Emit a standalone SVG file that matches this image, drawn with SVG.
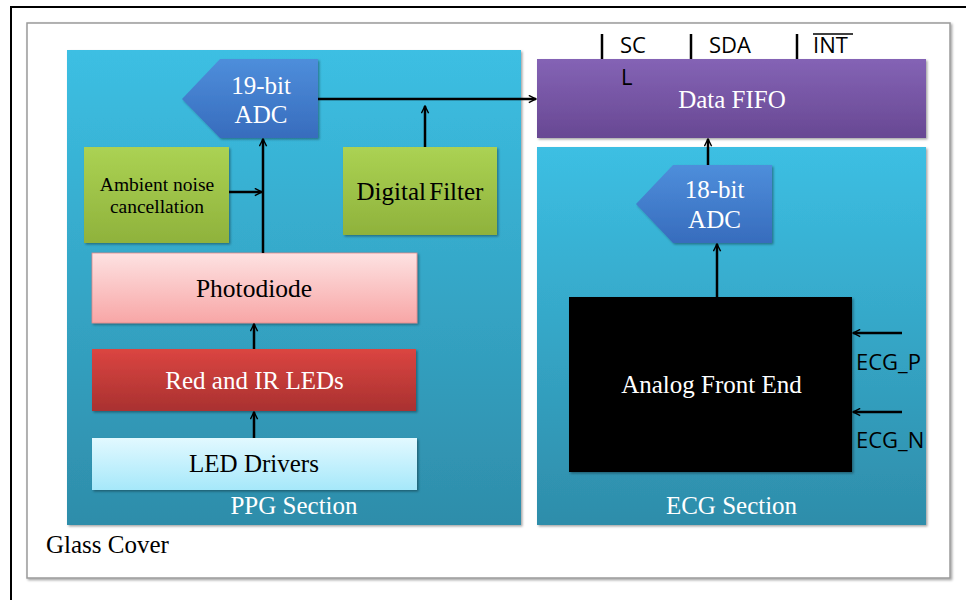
<svg xmlns="http://www.w3.org/2000/svg" width="966" height="600" viewBox="0 0 966 600">
<defs>
<linearGradient id="gSec" x1="0" y1="0" x2="0" y2="1"><stop offset="0" stop-color="#3cbfe3"/><stop offset="1" stop-color="#2e8daa"/></linearGradient>
<linearGradient id="gGreen" x1="0" y1="0" x2="0" y2="1"><stop offset="0" stop-color="#abd253"/><stop offset="1" stop-color="#8fb23c"/></linearGradient>
<linearGradient id="gPurple" x1="0" y1="0" x2="0" y2="1"><stop offset="0" stop-color="#8463b5"/><stop offset="1" stop-color="#684893"/></linearGradient>
<linearGradient id="gBlue" x1="0" y1="0" x2="0" y2="1"><stop offset="0" stop-color="#4e8edb"/><stop offset="1" stop-color="#376cbd"/></linearGradient>
<linearGradient id="gPink" x1="0" y1="0" x2="0" y2="1"><stop offset="0" stop-color="#fde2e2"/><stop offset="1" stop-color="#f8a6a6"/></linearGradient>
<linearGradient id="gRed" x1="0" y1="0" x2="0" y2="1"><stop offset="0" stop-color="#db4541"/><stop offset="1" stop-color="#a93130"/></linearGradient>
<linearGradient id="gLight" x1="0" y1="0" x2="0" y2="1"><stop offset="0" stop-color="#e2f9ff"/><stop offset="1" stop-color="#a6e8fa"/></linearGradient>
<filter id="sh" x="-5%" y="-5%" width="112%" height="115%"><feDropShadow dx="1.5" dy="1.5" stdDeviation="1.2" flood-color="#000" flood-opacity="0.35"/></filter>
<marker id="ah" viewBox="0 0 10 10" refX="9" refY="5" markerWidth="9" markerHeight="9" markerUnits="userSpaceOnUse" orient="auto"><path d="M1,1 L9,5 L1,9" fill="none" stroke="#000" stroke-width="1.6"/></marker>
</defs>
<style>
.serif{font-family:"Liberation Serif","Times New Roman",serif;text-anchor:middle;font-size:25px}
.sans{font-family:"Open Sans","Liberation Sans",sans-serif;font-size:22px}
.w{fill:#fff}
.k{fill:#000}
.c{stroke:#000;stroke-width:2.5;fill:none}
.ca{stroke:#000;stroke-width:2.5;fill:none;marker-end:url(#ah)}
</style>
<rect width="966" height="600" fill="#fff"/>
<g id="frame">
<path d="M11,600 L11,7 L966,7" fill="none" stroke="#000" stroke-width="2"/>
</g>
<g id="glass-cover">
<rect x="27" y="23" width="923" height="555" fill="#fff" stroke="#9a9a9a" stroke-width="1.5" filter="url(#sh)"/>
<text x="46" y="553" class="serif k" style="text-anchor:start">Glass Cover</text>
</g>
<g id="ppg-section">
<rect x="67" y="50" width="454" height="475" fill="url(#gSec)" filter="url(#sh)"/>
<text x="294" y="514" class="serif w">PPG Section</text>
</g>
<g id="ecg-section">
<rect x="537" y="147" width="389" height="378" fill="url(#gSec)" filter="url(#sh)"/>
<text x="731.5" y="514" class="serif w">ECG Section</text>
</g>
<g id="data-fifo">
<rect x="537" y="59" width="389" height="79" fill="url(#gPurple)" filter="url(#sh)"/>
<text x="732" y="108" class="serif w">Data FIFO</text>
</g>
<g id="adc19">
<path d="M182,99 L220,59 L318,59 L318,138 L220,138 Z" fill="url(#gBlue)" filter="url(#sh)"/>
<text x="261" y="94" class="serif w" font-size="24.5">19-bit</text>
<text x="261" y="123" class="serif w" font-size="24.5">ADC</text>
</g>
<g id="ambient">
<rect x="84" y="147" width="145" height="96" fill="url(#gGreen)" filter="url(#sh)"/>
<text x="157" y="191" class="serif k" style="font-size:19.5px">Ambient noise</text>
<text x="157" y="213" class="serif k" style="font-size:19.5px">cancellation</text>
</g>
<g id="digital-filter">
<rect x="343" y="147" width="154" height="88" fill="url(#gGreen)" filter="url(#sh)"/>
<text x="420" y="200" class="serif k" word-spacing="-3">Digital Filter</text>
</g>
<g id="photodiode">
<rect x="92" y="253" width="325" height="70" fill="url(#gPink)" stroke="#e08888" stroke-width="0.8" filter="url(#sh)"/>
<text x="254" y="297" class="serif k" style="font-size:25.5px">Photodiode</text>
</g>
<g id="red-ir-leds">
<rect x="92" y="349" width="324" height="62" fill="url(#gRed)" filter="url(#sh)"/>
<text x="254.5" y="389" class="serif w">Red and IR LEDs</text>
</g>
<g id="led-drivers">
<rect x="92" y="438" width="325" height="52" fill="url(#gLight)" filter="url(#sh)"/>
<text x="254" y="472" class="serif k">LED Drivers</text>
</g>
<g id="adc18">
<path d="M636,204 L673,165 L772,165 L772,243 L673,243 Z" fill="url(#gBlue)" filter="url(#sh)"/>
<text x="714.5" y="198" class="serif w">18-bit</text>
<text x="714.5" y="228" class="serif w">ADC</text>
</g>
<g id="afe">
<rect x="569" y="297" width="283" height="175" fill="#050505" filter="url(#sh)"/>
<text x="711.5" y="393" class="serif w">Analog Front End</text>
</g>
<g id="pins">
<text x="620" y="53" class="sans k">SC</text>
<text x="621" y="85" class="sans k">L</text>
<text x="709" y="53" class="sans k">SDA</text>
<text x="813" y="53" class="sans k">INT</text>
<line x1="813" y1="34" x2="853" y2="34" stroke="#000" stroke-width="1.5"/>
<text x="856" y="370" class="sans k">ECG_P</text>
<text x="856" y="448" class="sans k">ECG_N</text>
</g>
<g id="connectors">
<line class="c" x1="602" y1="34" x2="602" y2="59"/>
<line class="c" x1="691" y1="34" x2="691" y2="59"/>
<line class="c" x1="797" y1="34" x2="797" y2="59"/>
<line class="ca" x1="318" y1="99" x2="536" y2="99"/>
<line class="ca" x1="425" y1="147" x2="425" y2="106"/>
<line class="ca" x1="263" y1="253" x2="263" y2="139"/>
<line class="ca" x1="229" y1="192" x2="262" y2="192"/>
<line class="ca" x1="254" y1="349" x2="254" y2="324"/>
<line class="ca" x1="254" y1="438" x2="254" y2="412"/>
<line class="ca" x1="708" y1="165" x2="708" y2="139"/>
<line class="ca" x1="717" y1="297" x2="717" y2="244"/>
<line class="ca" x1="902" y1="333" x2="853" y2="333"/>
<line class="ca" x1="902" y1="412" x2="853" y2="412"/>
</g>
</svg>
